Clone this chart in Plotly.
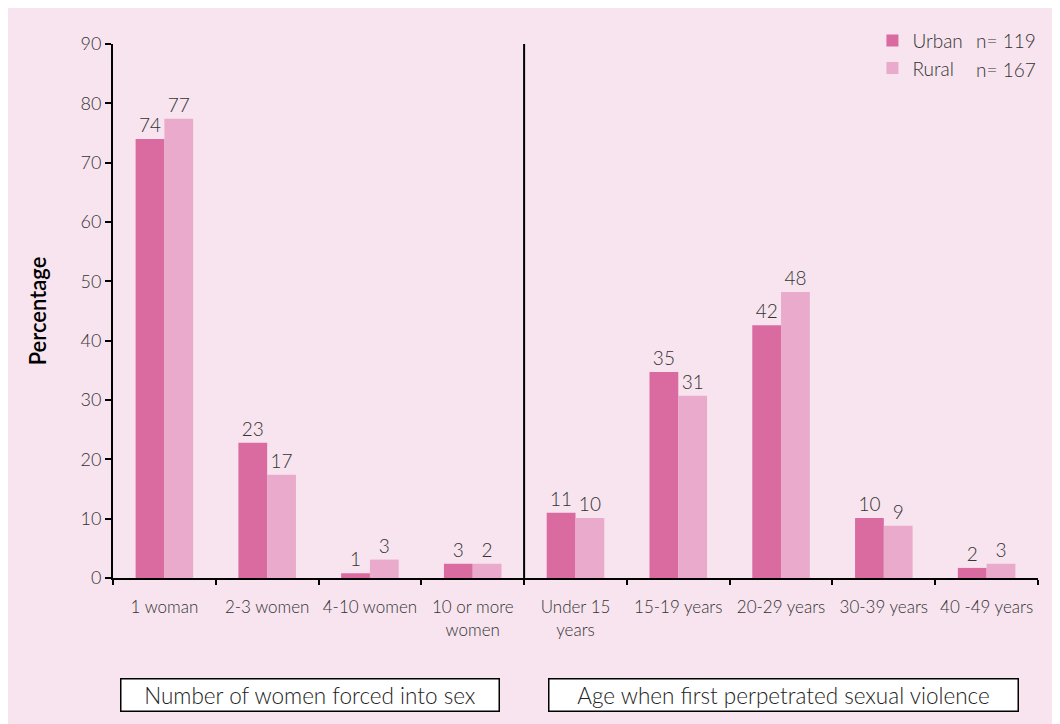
import plotly.graph_objects as go

categories = ["1 woman", "2-3 women", "4-10 women", "10 or more<br>women",
              "Under 15<br>years", "15-19 years", "20-29 years", "30-39 years", "40 -49 years"]
urban = [74.0, 22.8, 0.8, 2.4, 11.0, 34.7, 42.6, 10.1, 1.7]
rural = [77.4, 17.4, 3.1, 2.4, 10.1, 30.7, 48.2, 8.8, 2.4]
urban_labels = ["74", "23", "1", "3", "11", "35", "42", "10", "2"]
rural_labels = ["77", "17", "3", "2", "10", "31", "48", "9", "3"]
y_ticks = [0, 10, 20, 30, 40, 50, 60, 70, 80, 90]
group_titles = ["Number of women forced into sex", "Age when first perpetrated sexual violence"]
legend_n = ["n= 119", "n= 167"]

FONT = "Lato"
PINK_BG = "#F7E4EF"
URBAN_C = "#D96BA1"
RURAL_C = "#E9AACB"
TXT = "#333333"

fig = go.Figure()
fig.add_trace(go.Bar(x=categories, y=urban, name="Urban", marker_color=URBAN_C,
                     marker_line_width=0, text=urban_labels, textposition="outside",
                     textfont=dict(size=19, color=TXT, family=FONT, weight=300), cliponaxis=False))
fig.add_trace(go.Bar(x=categories, y=rural, name="Rural", marker_color=RURAL_C,
                     marker_line_width=0, text=rural_labels, textposition="outside",
                     textfont=dict(size=19, color=TXT, family=FONT, weight=300), cliponaxis=False))

fig.update_layout(
    width=1060, height=724,
    margin=dict(l=105, r=30, t=36, b=154, autoexpand=False),
    paper_bgcolor=PINK_BG, plot_bgcolor="rgba(0,0,0,0)",
    font=dict(family=FONT, size=17, color=TXT, weight=300),
    barmode="group", bargap=0.44, bargroupgap=0,
    showlegend=True,
    legend=dict(x=0.821, y=1.042, xanchor="left", yanchor="top",
                bgcolor="rgba(0,0,0,0)", font=dict(size=19, color=TXT, family=FONT, weight=300),
                itemwidth=30, tracegroupgap=0),
    xaxis=dict(showline=True, linecolor="black", linewidth=2, ticks="outside",
               tickson="boundaries", ticklen=5, tickwidth=2, tickcolor="black",
               ticklabelstandoff=13, tickangle=0, automargin=False,
               tickfont=dict(size=17, color=TXT, weight=300), showgrid=False, zeroline=False),
    yaxis=dict(range=[0, 90], tickvals=y_ticks, showline=True, linecolor="black", linewidth=2,
               ticks="outside", ticklen=6, tickwidth=2, tickcolor="black", automargin=False,
               tickfont=dict(size=18, color=TXT, weight=300), showgrid=False, zeroline=False,
               title=dict(text="Percentage", font=dict(size=22, color="black", family=FONT, weight=600),
                          standoff=28)),
)

# divider line between the two groups
fig.add_shape(type="line", xref="x", yref="y", x0=3.5, x1=3.5, y0=0, y1=90,
              line=dict(color="black", width=2))

# group title boxes
for txt, xc, w in zip(group_titles, [0.2135, 0.7254], [375, 466]):
    fig.add_annotation(text=txt, xref="paper", yref="paper", x=xc, y=-0.22,
                       xanchor="center", yanchor="middle", showarrow=False,
                       font=dict(size=22.5, color="#222222", family=FONT, weight=300),
                       bgcolor="white", bordercolor="black", borderwidth=1.5,
                       borderpad=1, width=w, height=29)

# n values next to legend
for txt, yy in zip(legend_n, [1.007, 0.952]):
    fig.add_annotation(text=txt, xref="paper", yref="paper", x=0.931, y=yy,
                       xanchor="left", yanchor="middle", showarrow=False,
                       font=dict(size=19, color=TXT, family=FONT, weight=300))

fig.write_html("out.html")
